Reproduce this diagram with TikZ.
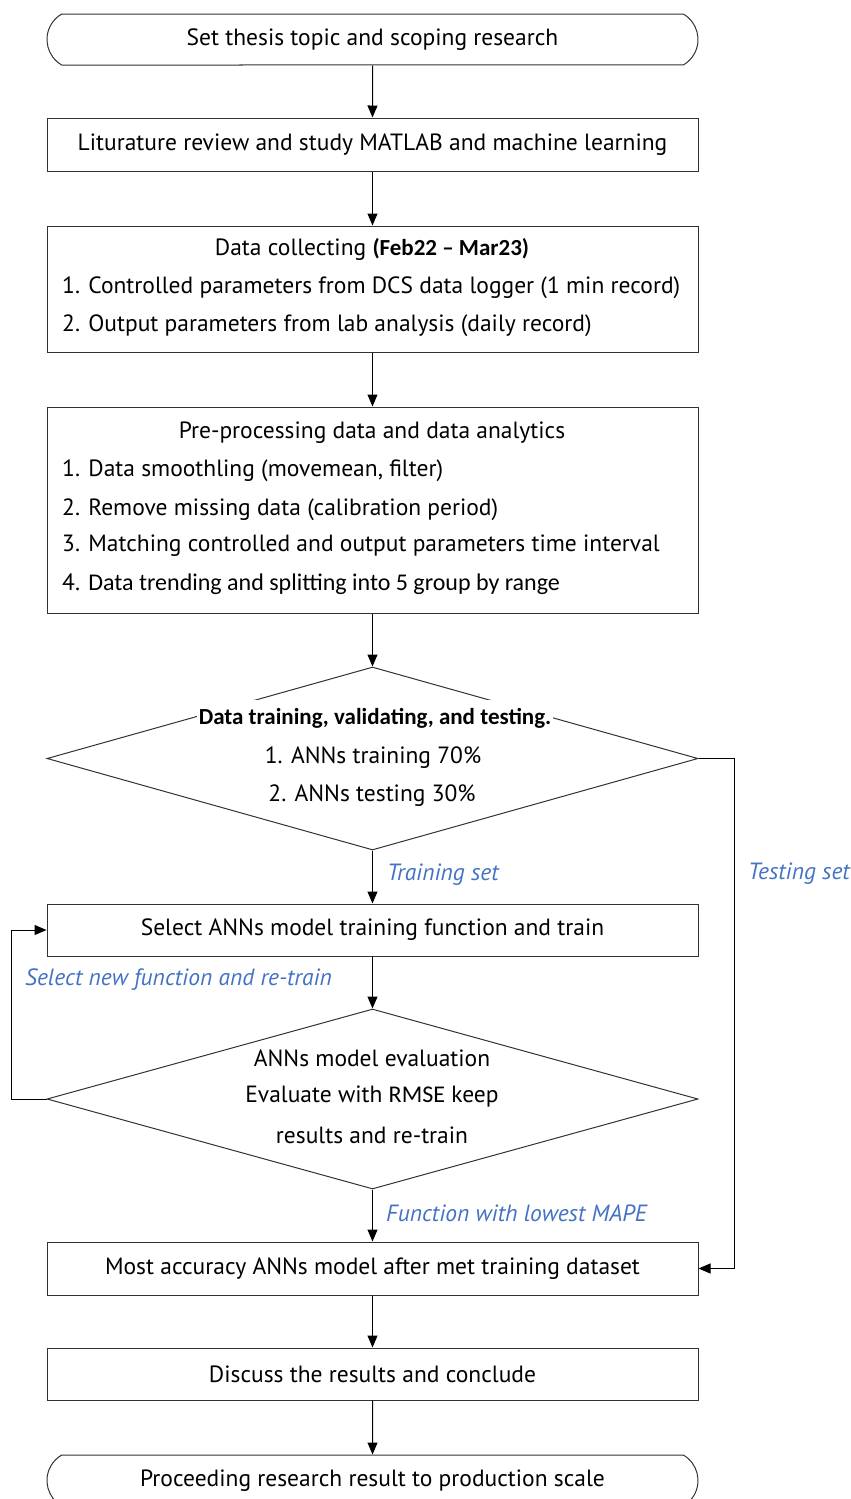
\documentclass[tikz,border=0pt]{standalone}
\usepackage{fontspec}
\setmainfont{PT Sans}
\newfontfamily\calfont{Carlito}
\usetikzlibrary{shapes,arrows.meta}
\definecolor{setblue}{RGB}{68,114,196}
\definecolor{edge}{RGB}{50,50,50}

\tikzset{
	box/.style={draw=edge, line width=1pt, minimum width=651pt, inner sep=0pt},
	term/.style={box, rounded rectangle, rounded rectangle arc length=120, minimum height=51pt},
	dia/.style={draw=edge, line width=1pt, diamond, inner sep=0pt, minimum width=651pt},
	arr/.style={draw=black, line width=1pt, -{Triangle[length=12pt,width=10pt]}},
	note/.style={anchor=west, text=setblue, font=\fontsize{23.5}{27}\selectfont\itshape},
	cal/.style={font=\fontsize{23}{27}\selectfont\calfont},
}
\newcommand{\calins}[1]{{\fontsize{24}{27}\selectfont\calfont #1}}

\begin{document}
\begin{tikzpicture}[x=1pt,y=-1pt,font=\fontsize{23.5}{27}\selectfont,inner sep=0pt]
		\useasboundingbox (0,0) rectangle (851,1499);

		\node[term] (topic) at (372.5,39.5) {Set thesis topic and scoping research};
		\node[box, minimum height=53pt] (review) at (372.5,144.5) {Liturature review and study MATLAB and machine learning};

		\node[box, minimum height=126pt] (collect) at (372.5,289) {};
		\node (collecthd) at (372,249) {Data collecting {\fontsize{23}{27}\selectfont\calfont\bfseries (Feb22 \textendash{} Mar23)}};
		\node[anchor=west] (collect1) at (62,288) {1. Controlled parameters from DCS data logger (1 min record)};
		\node[anchor=west] (collect2) at (62,326) {2. Output parameters from lab analysis (daily record)};

		\node[box, minimum height=206pt] (prep) at (372.5,510) {};
		\node (prephd) at (372,433) {Pre-processing data and data analytics};
		\node[anchor=west] (prep1) at (62,471) {1. Data smoothling (movemean, filter)};
		\node[anchor=west] (prep2) at (62,510) {2. Remove missing data (calibration period)};
		\node[anchor=west] (prep3) at (62,546) {3. Matching controlled and output parameters time interval};
		\node[anchor=west] (prep4) at (62,584) {4. \calins{Data trending and splitting into 5 group by range}};

		\node[dia, minimum height=183pt] (split) at (372.5,758.5) {};
		\node[cal, fill=white, inner xsep=2pt, inner ysep=8pt] (splithd) at (375,718) {\bfseries Data training, validating, and testing.};
		\node (split1) at (373,758) {1. ANNs training 70\%};
		\node (split2) at (372,796) {2. ANNs testing 30\%};

		\node[box, minimum height=52pt] (select) at (372.5,930) {Select ANNs model training function and train};

		\node[dia, minimum height=180pt] (eval) at (372.5,1099) {};
		\node (evalhd) at (372,1058) {ANNs model evaluation};
		\node (eval1) at (372,1097) {Evaluate with \calins{RMSE} keep};
		\node (eval2) at (372,1135) {results and re-train};

		\node[box, minimum height=53pt] (best) at (372.5,1268.5) {Most accuracy ANNs model after met training dataset};
		\node[box, minimum height=52pt] (discuss) at (372.5,1374) {Discuss the results and conclude};
		\node[term] (scale) at (372.5,1480.5) {Proceeding research result to production scale};

		\draw[arr] (topic) -- (review);
		\draw[arr] (review) -- (collect);
		\draw[arr] (collect) -- (prep);
		\draw[arr] (prep) -- (split);
		\draw[arr] (split) -- (select);
		\draw[arr] (select) -- (eval);
		\draw[arr] (eval) -- (best);
		\draw[arr] (best) -- (discuss);
		\draw[arr] (discuss) -- (scale);

		\draw[arr] (eval.west) -- ++(-35,0) |- (select.west);
		\draw[arr] (split.east) -- ++(36,0) |- (best.east);

		\node[note] (trainlbl) at (387,875) {Training set};
		\node[note] (testlbl) at (748,874) {Testing set};
		\node[note] (retrainlbl) at (25,980) {Select new function and re-train};
		\node[note] (mapelbl) at (386,1213) {Function with lowest MAPE};
	\end{tikzpicture}
\end{document}
